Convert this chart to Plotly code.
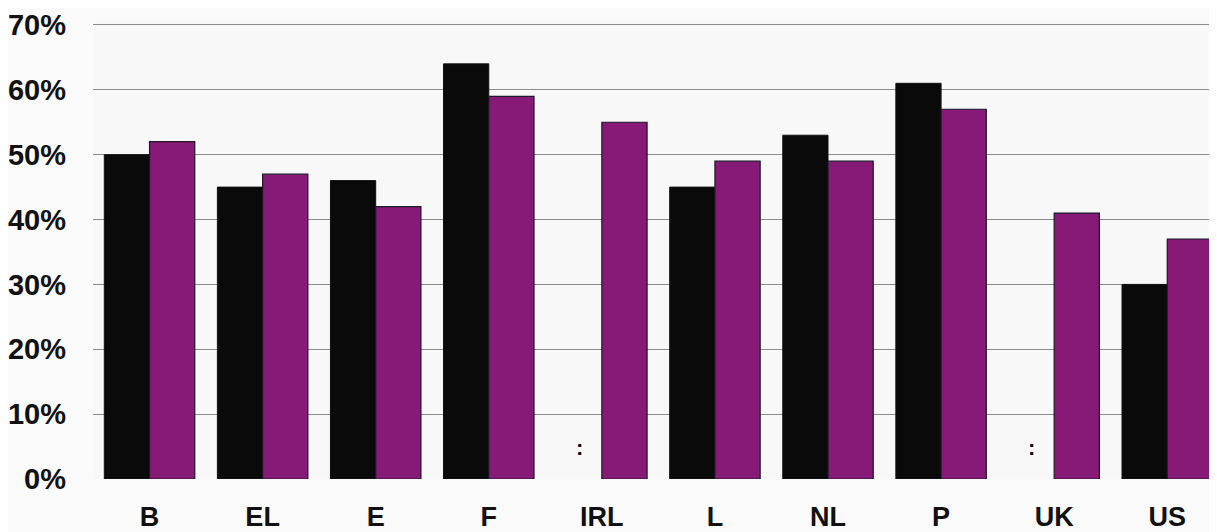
import plotly.graph_objects as go
import numpy as np

categories = ["B", "EL", "E", "F", "IRL", "L", "NL", "P", "UK", "US"]
series_black = [50, 45, 46, 64, None, 45, 53, 61, None, 30]
series_purple = [52, 47, 42, 59, 55, 49, 49, 57, 41, 37]
y_ticks = [0, 10, 20, 30, 40, 50, 60, 70]
y_tick_labels = [f"{v}%" for v in y_ticks]

xs = np.arange(len(categories))

fig = go.Figure()
fig.add_trace(go.Bar(x=xs, y=series_black, name="black",
                     marker=dict(color="#0a0a0a", line=dict(color="#111", width=1))))
fig.add_trace(go.Bar(x=xs, y=series_purple, name="purple",
                     marker=dict(color="#861a76", line=dict(color="#1a1a2a", width=1.2))))

bargap = 0.2
bw = (1 - bargap) / 2
for i, v in enumerate(series_black):
    if v is None:
        fig.add_annotation(x=xs[i] - bw / 2, y=0, xref="x", yref="y", text="<b>:</b>",
                           showarrow=False, yanchor="bottom", yshift=17,
                           font=dict(family="Liberation Sans, Arial", size=22, color="#111"))

fig.update_layout(
    width=1209, height=524,
    margin=dict(l=85, r=0, t=15, b=51),
    barmode="group", bargap=bargap, bargroupgap=0,
    paper_bgcolor="#fafafa", plot_bgcolor="#f8f8f8",
    showlegend=False,
    font=dict(family="Liberation Sans, Arial", color="#111"),
)
fig.update_xaxes(tickvals=list(xs), ticktext=[f"<b>{c}</b>" for c in categories],
                 range=[-0.5, 9.44], showgrid=False, zeroline=False, showline=False,
                 ticks="", ticklabelstandoff=19, tickfont=dict(size=27, family="Liberation Sans, Arial"))
fig.update_yaxes(range=[0, 70.3], tickvals=y_ticks, ticktext=[f"<b>{t}</b>" for t in y_tick_labels],
                 showgrid=True, gridcolor="#8c8c8c", gridwidth=1, zeroline=False,
                 showline=False, ticks="", ticklabelstandoff=26,
                 tickfont=dict(size=29, family="Liberation Sans, Arial"))

fig.write_html("out.html")
